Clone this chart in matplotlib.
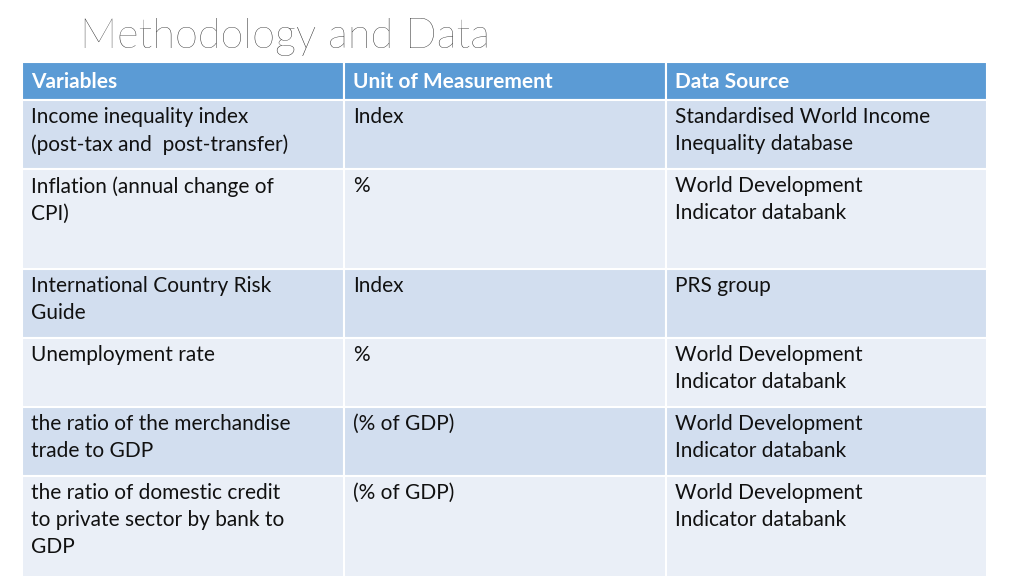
import matplotlib
matplotlib.use("Agg")
import matplotlib.pyplot as plt
from matplotlib.patches import Rectangle

title = "Methodology and Data"
headers = ["Variables", "Unit of Measurement", "Data Source"]
variables = ["Income inequality index\n(post-tax and  post-transfer)",
             "Inflation (annual change of\nCPI)",
             "International Country Risk\nGuide",
             "Unemployment rate",
             "the ratio of the merchandise\ntrade to GDP",
             "the ratio of domestic credit\nto private sector by bank to\nGDP"]
units = ["Index", "%", "Index", "%", "(% of GDP)", "(% of GDP)"]
sources = ["Standardised World Income\nInequality database",
           "World Development\nIndicator databank",
           "PRS group",
           "World Development\nIndicator databank",
           "World Development\nIndicator databank",
           "World Development\nIndicator databank"]

col_x = [22, 344, 666, 987]
row_y = [62, 100, 169, 269, 338, 407, 476, 578]
header_color = "#5B9BD5"
row_colors = ["#D2DEEF", "#EAEFF7"]
font = "Lato"

fig = plt.figure(figsize=(10.24, 5.76), dpi=100)
ax = fig.add_axes([0, 0, 1, 1])
ax.set_xlim(0, 1024)
ax.set_ylim(576, 0)
ax.axis("off")

ax.text(80, 37, title, fontsize=30, family=font, fontweight="light",
        color="#222222", va="center", ha="left")

rows = [headers] + [list(r) for r in zip(variables, units, sources)]
for i, row in enumerate(rows):
    y0, y1 = row_y[i], row_y[i + 1]
    color = header_color if i == 0 else row_colors[(i - 1) % 2]
    for j, txt in enumerate(row):
        x0, x1 = col_x[j], col_x[j + 1]
        ax.add_patch(Rectangle((x0, y0), x1 - x0, y1 - y0, facecolor=color,
                               edgecolor="white", linewidth=1.5))
        if i == 0:
            ax.text(x0 + 9, (y0 + y1) / 2 + 1, txt, fontsize=15, family=font,
                    fontweight="bold", color="white", va="center", ha="left")
        else:
            ax.text(x0 + 9, y0 + 7, txt, fontsize=15, family=font,
                    color="#111111", va="top", ha="left", linespacing=1.45)

fig.savefig("out.png", dpi=100)
